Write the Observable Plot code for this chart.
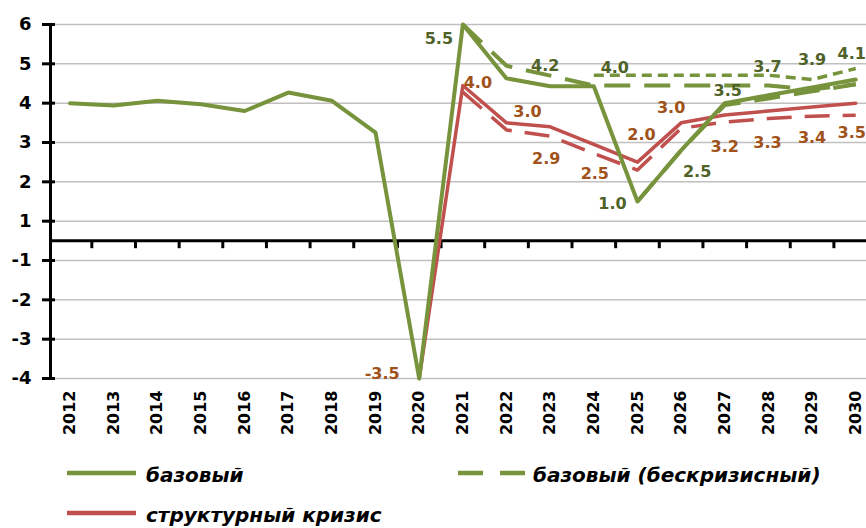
<!DOCTYPE html>
<html>
<head>
<meta charset="utf-8">
<script src="https://cdn.jsdelivr.net/npm/d3@7"></script>
<script src="https://cdn.jsdelivr.net/npm/@observablehq/plot@0.6"></script>
<style>
  html, body { margin: 0; padding: 0; background: #fff; overflow: hidden; }
  #chart svg { display: block; }
</style>
</head>
<body>
<div id="chart"></div>
<script>
// ---- data ----
const years = [2012, 2013, 2014, 2015, 2016, 2017, 2018, 2019, 2020, 2021, 2022, 2023, 2024, 2025, 2026, 2027, 2028, 2029, 2030];
// "базовый" (solid green)
const base = [3.5, 3.44, 3.56, 3.47, 3.3, 3.77, 3.56, 2.75, -3.5, 5.5, 4.13, 3.93, 3.93, 1.0, 2.3, 3.5, 3.7, 3.9, 4.1];
// "базовый (бескризисный)" (long-dashed green)
const baseNoCrisis = [null, null, null, null, null, null, null, null, null, 5.5, 4.45, 4.2, 3.95, 3.95, 3.95, 3.95, 3.95, 3.85, 3.98];
// extra green short-dashed series
const baseHigh = [null, null, null, null, null, null, null, null, null, null, null, null, 4.21, 4.21, 4.21, 4.21, 4.21, 4.1, 4.38];
// extra green long-dashed series following the base
const baseAlt = [null, null, null, null, null, null, null, null, null, null, null, null, null, 1.0, 2.3, 3.45, 3.62, 3.8, 3.98];
// "структурный кризис" (solid red)
const crisis = [null, null, null, null, null, null, null, null, -3.5, 3.95, 3.0, 2.9, 2.45, 2.0, 3.0, 3.2, 3.3, 3.4, 3.5];
// red dashed series
const crisisAlt = [null, null, null, null, null, null, null, null, null, 3.78, 2.82, 2.66, 2.22, 1.8, 2.86, 3.02, 3.11, 3.17, 3.19];

const yTicks = [5.5, 4.5, 3.5, 2.5, 1.5, 0.5, -0.5, -1.5, -2.5, -3.5];
const categoryEdges = [2012.5, 2013.5, 2014.5, 2015.5, 2016.5, 2017.5, 2018.5, 2019.5, 2020.5, 2021.5, 2022.5, 2023.5, 2024.5, 2025.5, 2026.5, 2027.5, 2028.5, 2029.5];

// data labels: text, year, series it is attached to
const greenLabels = [
  {t: "5.5", year: 2021, s: "base"},
  {t: "4.2", year: 2023, s: "baseNoCrisis"},
  {t: "4.0", year: 2024, s: "baseNoCrisis"},
  {t: "1.0", year: 2025, s: "base"},
  {t: "2.5", year: 2026, s: "base"},
  {t: "3.5", year: 2027, s: "base"},
  {t: "3.7", year: 2028, s: "base"},
  {t: "3.9", year: 2029, s: "base"},
  {t: "4.1", year: 2030, s: "base"}
];
const redLabels = [
  {t: "-3.5", year: 2020}, {t: "4.0", year: 2021}, {t: "3.0", year: 2022}, {t: "2.9", year: 2023},
  {t: "2.5", year: 2024}, {t: "2.0", year: 2025}, {t: "3.0", year: 2026}, {t: "3.2", year: 2027},
  {t: "3.3", year: 2028}, {t: "3.4", year: 2029}, {t: "3.5", year: 2030}
];
// label offsets (px)
const greenOffsets = [[-24, 14], [-5, -10], [21, -18], [-25, 2], [16, 22], [3, -12], [-1, -28], [0, -28], [-4, -26]];
const redOffsets = [[-37, -5], [15, -3], [21, -11], [-4, 32], [1, 29], [4, -27], [-10, -15], [0, 32], [-1, 32], [0, 31], [-4, 30]];

const legendItems = [
  {name: "базовый", color: "#77933C", dash: null},
  {name: "базовый (бескризисный)", color: "#77933C", dash: "25,17"},
  {name: "структурный кризис", color: "#C0504D", dash: null}
];

// ---- styles ----
const GREEN = "#77933C", GREEN_TXT = "#4F6228", RED = "#C0504D", RED_TXT = "#A0521A";
const seriesMap = {base, baseNoCrisis, baseHigh, baseAlt, crisis, crisisAlt};
const idx = y => years.indexOf(y);
const fmtY = v => String(Math.sign(v) * Math.round(Math.abs(v)));

function line(values, stroke, width, dash) {
  return Plot.line(years, {
    x: d => d,
    y: (d, i) => values[i],
    stroke, strokeWidth: width,
    strokeDasharray: dash || undefined,
    strokeLinejoin: "round",
    strokeLinecap: dash ? "butt" : "round"
  });
}

const labelMarks = [
  ...greenLabels.map((l, k) => Plot.text([l], {
    x: "year", y: d => seriesMap[d.s][idx(d.year)], text: "t",
    dx: greenOffsets[k][0], dy: greenOffsets[k][1],
    fill: GREEN_TXT, fontSize: 16, fontWeight: "bold"
  })),
  ...redLabels.map((l, k) => Plot.text([l], {
    x: "year", y: d => crisis[idx(d.year)], text: "t",
    dx: redOffsets[k][0], dy: redOffsets[k][1],
    fill: RED_TXT, fontSize: 16, fontWeight: "bold"
  }))
];

const chart = Plot.plot({
  width: 866,
  height: 440,
  marginLeft: 50,
  marginRight: 0,
  marginTop: 24,
  marginBottom: 62,
  style: {fontFamily: "'DejaVu Sans', sans-serif", fontWeight: "bold", color: "#000", background: "#fff", overflow: "hidden"},
  x: {domain: [2011.553, 2030.247], axis: null},
  y: {domain: [-3.5, 5.5], axis: null},
  marks: [
    Plot.ruleY(yTicks, {stroke: "#c0c0c0", strokeWidth: 1.5}),
    Plot.ruleY([0], {stroke: "#000", strokeWidth: 3}),
    Plot.ruleX(categoryEdges, {y1: 0, y2: -0.2, stroke: "#000", strokeWidth: 3}),
    Plot.frame({anchor: "left", stroke: "#000", strokeWidth: 3}),
    Plot.axisY({
      ticks: yTicks, tickFormat: fmtY, tickSize: 13, dx: 5, tickPadding: 11,
      fontSize: 18, fontWeight: "bold", stroke: "#000", strokeWidth: 3, label: null
    }),
    Plot.axisX({
      ticks: years, tickFormat: d => String(d), tickSize: 0, tickRotate: -90, tickPadding: 12,
      fontSize: 16, fontWeight: "bold", label: null
    }),
    line(crisisAlt, RED, 3.5, "25,13"),
    line(crisis, RED, 3.5),
    line(baseHigh, GREEN, 3.5, "10,6"),
    line(baseNoCrisis, GREEN, 4, "26,14"),
    line(baseAlt, GREEN, 4, "26,14"),
    line(base, GREEN, 4),
    ...labelMarks
  ]
});
document.getElementById("chart").appendChild(chart);

// ---- legend (below the plot) ----
const legendPos = [
  {x1: 67, x2: 136, tx: 146, y: 33},
  {x1: 458, x2: 528, tx: 533, y: 33},
  {x1: 67, x2: 136, tx: 146, y: 73}
];
const leg = d3.select("#chart").append("svg")
  .attr("width", 866).attr("height", 88)
  .style("display", "block")
  .style("font-family", "'DejaVu Sans', sans-serif");
legendItems.forEach((it, i) => {
  const p = legendPos[i];
  leg.append("line")
    .attr("x1", p.x1).attr("x2", p.x2).attr("y1", p.y).attr("y2", p.y)
    .attr("stroke", it.color).attr("stroke-width", 4.5)
    .attr("stroke-dasharray", it.dash);
  leg.append("text")
    .attr("x", p.tx).attr("y", p.y + 9)
    .attr("font-size", 20).attr("font-weight", "bold").attr("font-style", "italic")
    .attr("fill", "#000")
    .text(it.name);
});
</script>
</body>
</html>
